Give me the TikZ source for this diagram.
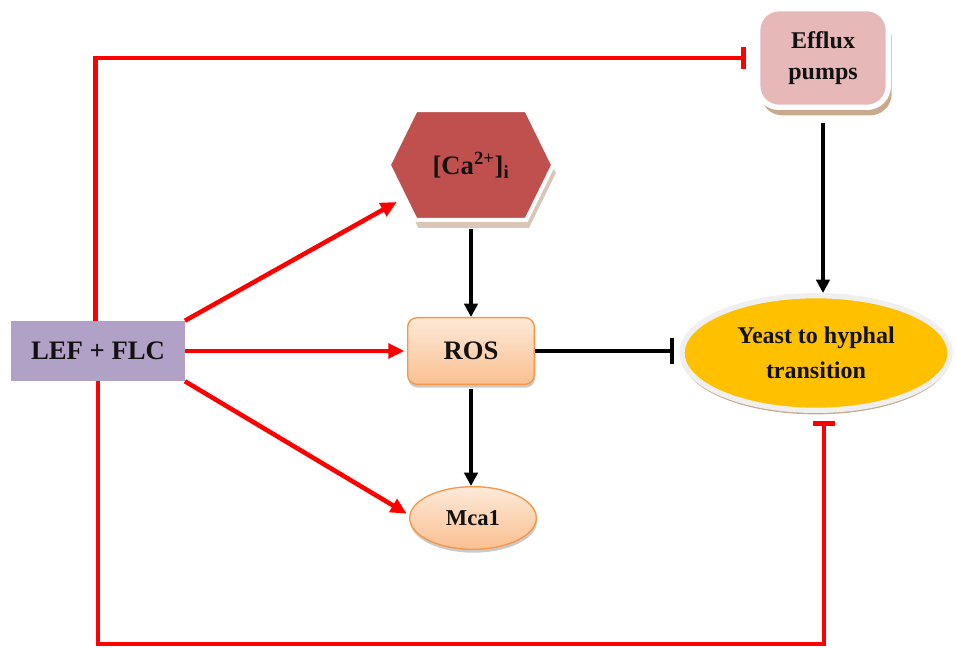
\documentclass[tikz,border=0pt]{standalone}
\usepackage{fontspec}
\setmainfont{Liberation Serif}
\usetikzlibrary{arrows.meta,calc,shadows,backgrounds,shapes.geometric}

\definecolor{lefpurple}{HTML}{B2A1C7}
\definecolor{orangeline}{HTML}{F79646}
\definecolor{orangetop}{HTML}{FDE9D9}
\definecolor{orangebot}{HTML}{FAC090}
\definecolor{brick}{HTML}{C0504D}
\definecolor{pumppink}{HTML}{E6B9B8}
\definecolor{amber}{HTML}{FFC000}
\definecolor{shadowtan}{HTML}{C9A98C}
\definecolor{shadowlight}{HTML}{D9C6B6}
\definecolor{rimgray}{HTML}{EFEFEF}

\tikzset{
  box/.style={inner sep=0pt, align=center, text=black!93,
    font=\bfseries\fontsize{20}{22}\selectfont},
  orangebox/.style={box, draw=orangeline, line width=1pt,
    top color=orangetop, bottom color=orangebot,
    drop shadow={shadow xshift=0.5pt, shadow yshift=-2.5pt, fill=black!35, opacity=0.6}},
  actred/.style={draw=red, line width=3.4pt, -{Triangle[length=12pt,width=11pt]}},
  inhred/.style={draw=red, line width=3.4pt, -{Bar[width=17pt]}},
  actblk/.style={draw=black, line width=2.8pt, -{Triangle[length=10pt,width=10pt]}},
  inhblk/.style={draw=black, line width=2.8pt, -{Bar[width=20pt]}},
}

\begin{document}
\begin{tikzpicture}[x=0.75pt,y=-0.75pt]
  \useasboundingbox (0,0) rectangle (956,648);

  % nodes
  \node[box, fill=lefpurple, minimum width=130pt, minimum height=45pt] (lef) at (98,351) {LEF + FLC};
  \node[orangebox, rounded corners=7pt, minimum width=95pt, minimum height=50pt] (ros) at (471,351) {ROS};
  \node[orangebox, ellipse, minimum width=95pt, minimum height=47pt,
        font=\bfseries\fontsize{17}{20}\selectfont] (mca) at (473,518) {Mca1};
  \node[box, minimum width=123pt, minimum height=82pt] (ca) at (471,165) {[Ca\textsuperscript{2+}]\textsubscript{i}};
  \node[box, fill=pumppink, draw=white, line width=4pt, rounded corners=16pt,
        minimum width=98pt, minimum height=74pt,
        font=\bfseries\fontsize{18}{20}\selectfont,
        drop shadow={shadow xshift=2.5pt, shadow yshift=-6pt, fill=shadowtan, opacity=1}]
        (effl) at (823,58) {Efflux\\[3pt]pumps};
  \node[box, ellipse, fill=amber, draw=rimgray, line width=4pt,
        minimum width=201pt, minimum height=86pt,
        font=\bfseries\fontsize{18}{20}\selectfont,
        drop shadow={shadow xshift=0pt, shadow yshift=-3pt, fill=shadowtan, opacity=1}]
        (yeast) at (816,353) {Yeast to hyphal\\[6pt]transition};

  \begin{scope}[on background layer]
    \path[fill=brick, draw=white, line width=3pt,
          drop shadow={shadow xshift=2pt, shadow yshift=-6pt, fill=shadowlight, opacity=1}]
      (ca.west) -- ($(ca.north west)+(27,0)$) -- ($(ca.north east)+(-27,0)$)
      -- (ca.east) -- ($(ca.south east)+(-27,0)$) -- ($(ca.south west)+(27,0)$) -- cycle;
  \end{scope}

  \coordinate (base) at (0,644);

  % red connectors
  \draw[actred] (lef.north east) -- ($(ca.west)+(8,37)$);
  \draw[actred, shorten >=2pt] (lef.east) -- (ros.west);
  \draw[actred, shorten >=2pt] (lef.south east) -- ($(mca.west)+(0,-3)$);
  \draw[inhred] ([xshift=-2pt]lef.north) |- ([xshift=-7pt]effl.west);
  \draw[inhred] (lef.south) -- (lef.south |- base) -| ([xshift=6pt,yshift=-6pt]yeast.south);

  % black connectors
  \draw[actblk] ([yshift=-7pt]ca.south) -- (ros.north);
  \draw[actblk, shorten <=3pt] (ros.south) -- (mca.north -| ros.south);
  \draw[actblk] ([yshift=-10pt]effl.south) -- (yeast.north -| effl.south);
  \draw[inhblk, shorten >=4pt] (ros.east) -- (ros.east -| yeast.west);
\end{tikzpicture}
\end{document}
